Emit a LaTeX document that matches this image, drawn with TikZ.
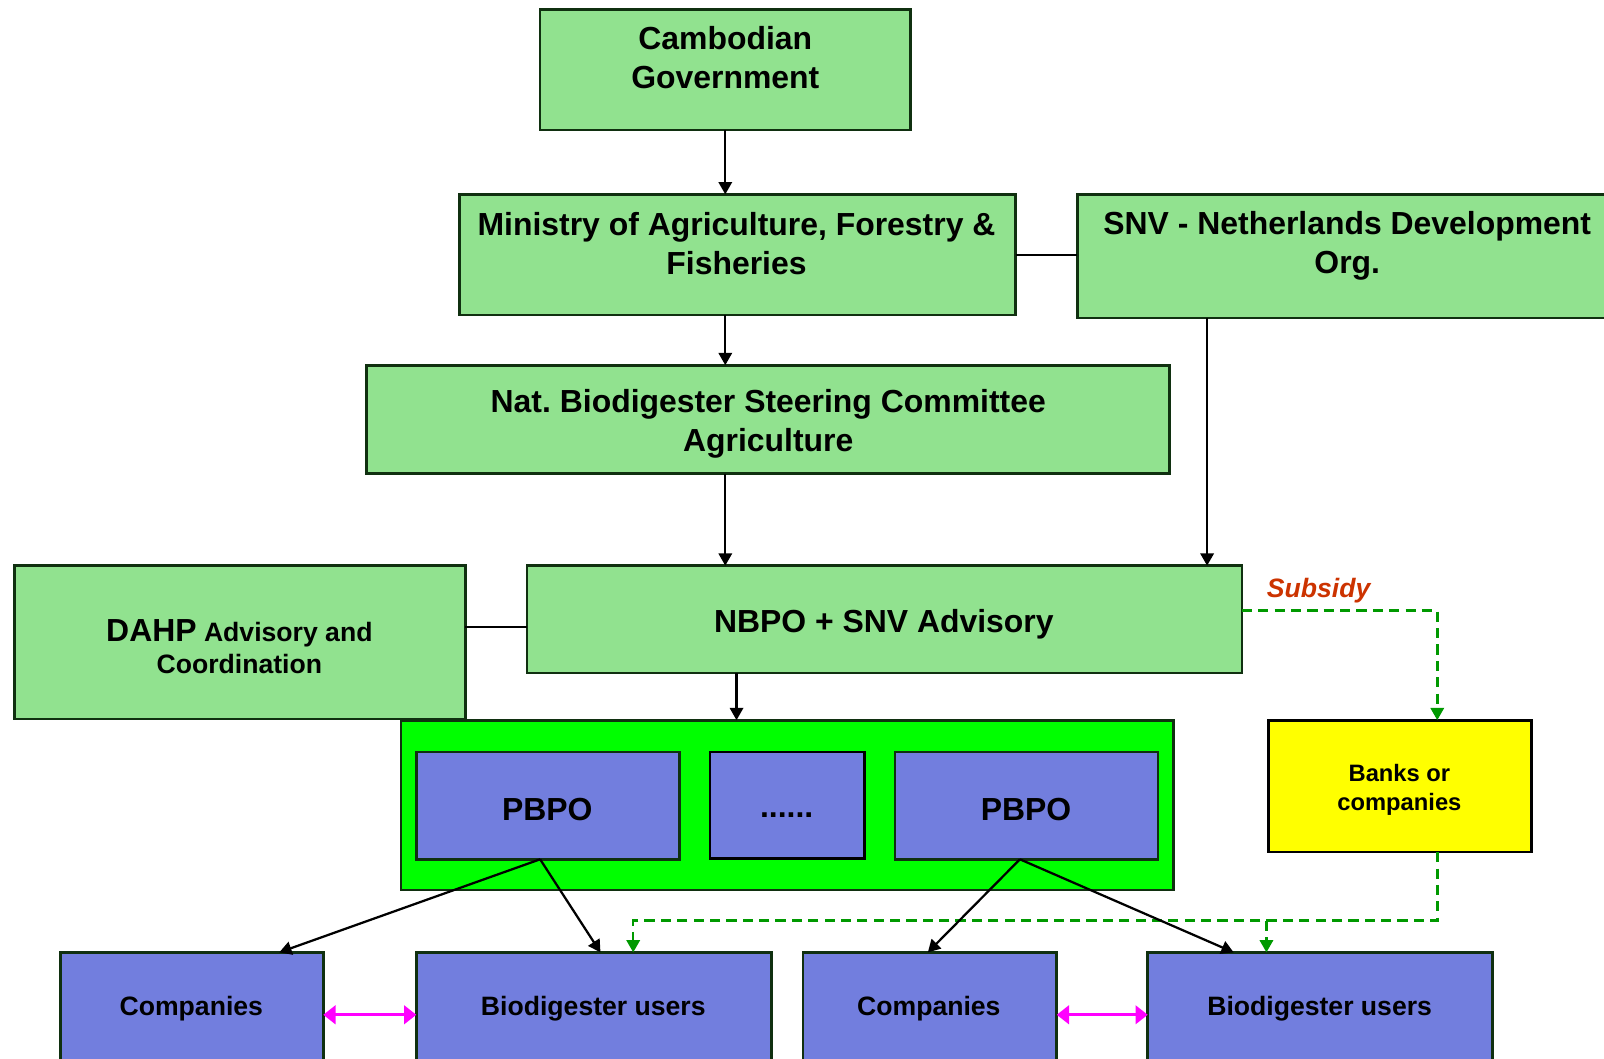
\documentclass[tikz,border=0pt]{standalone}
\usepackage{fontspec}
\setmainfont{Liberation Sans}
\usetikzlibrary{arrows.meta}
\frenchspacing
\definecolor{lgreen}{RGB}{145,226,143}
\definecolor{bgreen}{RGB}{0,255,0}
\definecolor{pblue}{RGB}{114,126,222}
\definecolor{dkb}{RGB}{16,48,16}
\definecolor{dgreen}{RGB}{0,153,0}
\definecolor{subs}{RGB}{204,51,0}
\definecolor{yel}{RGB}{255,255,0}
\definecolor{magc}{RGB}{255,0,255}
\newcommand\mybox[6]{\node[#6, minimum width={(#4-#2)*0.5pt}, minimum height={(#5-#3)*0.5pt}] (#1) at ({(#2+#4)/2},{(#3+#5)/2}) {};}
\tikzset{
  box/.style={draw=dkb, line width=1.3pt, inner sep=0pt, outer sep=0pt},
  gbox/.style={box, fill=lgreen},
  bbox/.style={box, fill=pblue},
  txt/.style={font=\bfseries\fontsize{15.6}{19}\selectfont, align=center, inner sep=0pt},
  stxt/.style={font=\bfseries\fontsize{13}{15.5}\selectfont, align=center, inner sep=0pt},
  arr/.style={-{Triangle[length=6pt,width=6.5pt]}, line width=1.1pt},
  plain/.style={line width=0.9pt},
  sub/.style={dgreen, dash pattern=on 5pt off 3pt, line width=1.2pt},
  subarr/.style={sub, -{Triangle[length=6pt,width=6.5pt]}},
  mag/.style={magc, line width=1.5pt, {Triangle[length=6pt,width=9pt]}-{Triangle[length=6pt,width=9pt]}}
}
\begin{document}
\begin{tikzpicture}[x=0.5pt,y=-0.5pt]
\path[use as bounding box] (0,0) rectangle (1568,1035);
\clip (0,0) rectangle (1568,1035);
% boxes
\mybox{gov}{528}{9}{890}{127}{gbox}
\mybox{min}{449}{190}{993}{308}{gbox}
\mybox{snv}{1053}{190}{1640}{311}{gbox}
\mybox{nbsc}{358}{357}{1143}{463}{gbox}
\mybox{dahp}{14}{553}{455}{703}{gbox}
\mybox{nbpo}{515}{553}{1214}{658}{gbox}
\mybox{cont}{392}{704}{1147}{870}{box, fill=bgreen}
\mybox{pb1}{407}{735}{664}{840}{bbox}
\mybox{dots}{694}{735}{845}{839}{box, draw=black, fill=pblue}
\mybox{pb2}{875}{735}{1132}{840}{bbox}
\mybox{banks}{1240}{704}{1497}{833}{box, draw=black, fill=yel}
\mybox{co1}{59}{931}{316}{1090}{bbox}
\mybox{bu1}{407}{931}{754}{1090}{bbox}
\mybox{co2}{785}{931}{1033}{1090}{bbox}
\mybox{bu2}{1122}{931}{1459}{1090}{bbox}
% texts
\node[txt] (tgov) at (709,56) {Cambodian\\Government};
\node[txt] (tmin) at (720,238) {Ministry of Agriculture, Forestry \&\\Fisheries};
\node[txt] (tsnv) at (1317,240) {SNV - Netherlands Development\\Org.};
\node[txt] (tnbsc) at (751,414) {Nat. Biodigester Steering Committee\\Agriculture};
\node[stxt] (tdahp) at (234,632) {{\fontsize{15.6}{19}\selectfont DAHP} Advisory and\\Coordination};
\node[txt] (tnbpo) at (864,610) {NBPO + SNV Advisory};
\node[stxt, font=\bfseries\itshape\fontsize{13}{15.5}\selectfont, text=subs] (tsub) at (1289,577) {Subsidy};
\node[txt] (tpb1) at (535,791) {PBPO};
\node[txt] (tdots) at (769,797) {......};
\node[txt] (tpb2) at (1003,791) {PBPO};
\node[font=\bfseries\fontsize{11.6}{14}\selectfont, align=center, inner sep=0pt] (tbanks) at (1368,772) {Banks or\\companies};
\node[stxt] (tco1) at (187,986) {Companies};
\node[stxt] (tbu1) at (580,986) {Biodigester users};
\node[stxt] (tco2) at (908,986) {Companies};
\node[stxt] (tbu2) at (1290,986) {Biodigester users};
% helper coordinates
\coordinate (x709) at (709,0);
\coordinate (x720) at (720,0);
\coordinate (x1180) at (1180,0);
\coordinate (y613) at (0,613);
\coordinate (sa) at (1405,597);
\coordinate (sb) at (1405,900);
\coordinate (c619) at (619,900);
\coordinate (c1238) at (1238,900);
\coordinate (p1) at (528,840);
\coordinate (p2) at (997,840);
\coordinate (t1) at (273,931);
\coordinate (t2) at (587,931);
\coordinate (t3) at (907,931);
\coordinate (t4) at (1206,931);
\coordinate (y992) at (0,992);
% connectors
\draw[arr] (gov.south) -- (gov.south |- min.north);
\draw[arr] (min.south -| x709) -- (nbsc.north -| x709);
\draw[arr] (nbsc.south -| x709) -- (nbpo.north -| x709);
\draw[arr] (snv.south -| x1180) -- (nbpo.north -| x1180);
\draw[plain] (min.east) -- (min.east -| snv.west);
\draw[plain] (dahp.east |- y613) -- (nbpo.west |- y613);
\draw[arr] (nbpo.south -| x720) -- (cont.north -| x720);
\draw[subarr] (nbpo.east |- sa) -| (banks.north -| sa);
\draw[subarr] (banks.south -| sb) |- (c619) -- (bu1.north -| c619);
\draw[subarr] (c1238) -- (bu2.north -| c1238);
\draw[arr] (p1) -- (t1);
\draw[arr] (p1) -- (t2);
\draw[arr] (p2) -- (t3);
\draw[arr] (p2) -- (t4);
\draw[mag] (co1.east |- y992) -- (bu1.west |- y992);
\draw[mag] (co2.east |- y992) -- (bu2.west |- y992);
\end{tikzpicture}
\end{document}
